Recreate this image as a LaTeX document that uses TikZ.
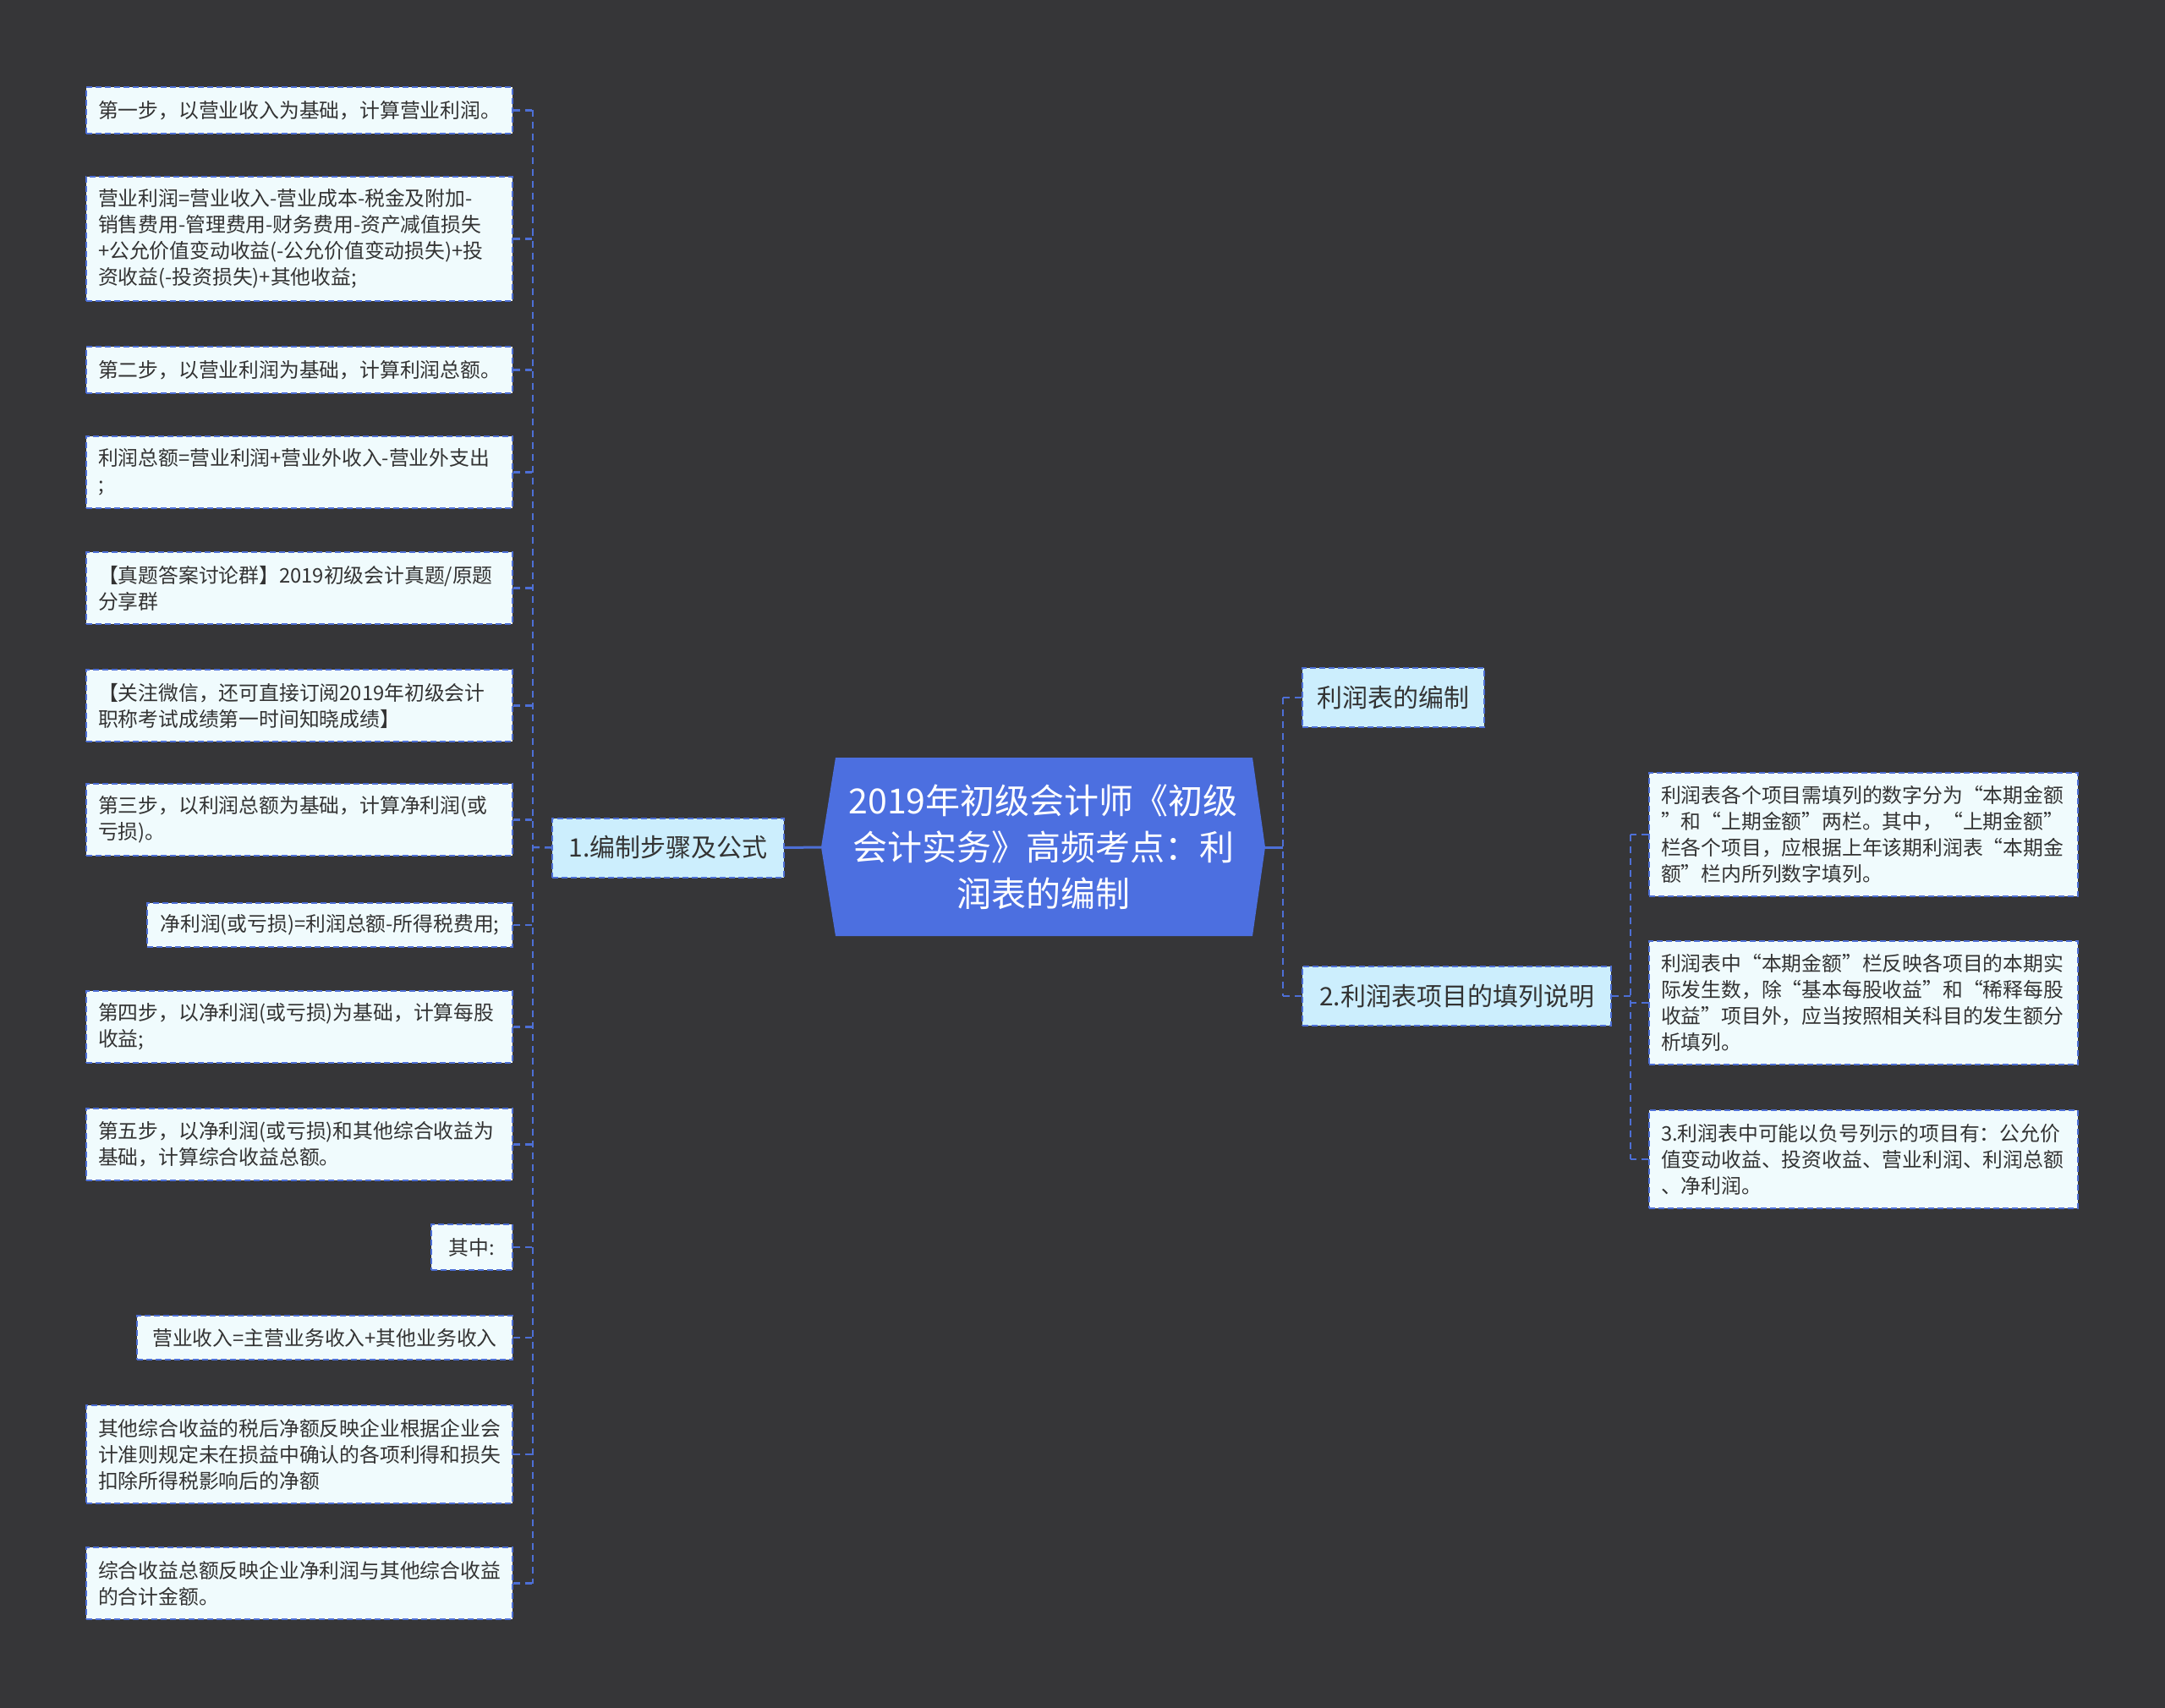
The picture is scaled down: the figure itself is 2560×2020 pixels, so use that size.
\documentclass[tikz,border=0pt]{standalone}
\usepackage{fontspec}
\setmainfont{Noto Sans CJK SC}
\definecolor{bgc}{RGB}{54,54,56}
\definecolor{linec}{RGB}{77,111,214}
\definecolor{cfill}{RGB}{76,111,224}
\definecolor{bfill}{RGB}{204,238,253}
\definecolor{lfill}{RGB}{240,251,253}
\definecolor{ltext}{RGB}{51,51,51}
\newcommand{\leaffont}{\fontsize{23.8pt}{31pt}\selectfont\hyphenpenalty=10000\exhyphenpenalty=10000}
\newcommand{\branchfont}{\fontsize{30pt}{36pt}\selectfont}
\newcommand{\centerfont}{\fontsize{41pt}{55pt}\selectfont}
\begin{document}
\begin{tikzpicture}[x=1pt,y=-1pt,
  leaf/.style={draw=linec, dash pattern=on 7pt off 4pt, line width=2pt, fill=lfill,
    text=ltext, font=\leaffont, align=left, inner xsep=14pt, inner ysep=0pt, anchor=east},
  nleaf/.style={leaf, inner xsep=10pt},
  branchbox/.style={draw=linec, dash pattern=on 7pt off 4pt, line width=2pt, fill=bfill,
    text=ltext, font=\branchfont, inner sep=0pt, minimum height=70pt},
  dashc/.style={draw=linec, line width=2.5pt, dash pattern=on 8pt off 6pt},
  solidc/.style={draw=linec, line width=3pt}]
\fill[bgc] (0,0) rectangle (2560,2020);
\useasboundingbox (0,0) rectangle (2560,2020);

% center
\fill[cfill] (988,896) -- (1481,896) -- (1496,1002) -- (1481,1107) -- (988,1107) -- (971,1002) -- cycle;
\node[text=white, font=\centerfont, align=center, inner sep=0pt] (center) at (1233.5,1002)
  {2019年初级会计师《初级\\会计实务》高频考点：利\\润表的编制};
\coordinate (cL) at (971,1002);
\coordinate (cR) at (1496,1002);

% branches
\node[branchbox, minimum width=274pt] (B1) at (790,1002.5) {1.编制步骤及公式};
\node[branchbox, minimum width=215pt] (B2) at (1647.5,825) {利润表的编制};
\node[branchbox, minimum width=365pt] (B3) at (1722.5,1178) {2.利润表项目的填列说明};

% left leaves
\node[leaf, text width=476pt, minimum height=55pt] (L1) at (607,130.5) {第一步，以营业收入为基础，计算营业利润。};
\node[leaf, text width=476pt, minimum height=147pt] (L2) at (607,282.5) {营业利润=营业收入-营业成本-税金及附加-\\销售费用-管理费用-财务费用-资产减值损失\\+公允价值变动收益(-公允价值变动损失)+投\\资收益(-投资损失)+其他收益;};
\node[leaf, text width=476pt, minimum height=55pt] (L3) at (607,437.5) {第二步，以营业利润为基础，计算利润总额。};
\node[leaf, text width=476pt, minimum height=85pt] (L4) at (607,558.5) {利润总额=营业利润+营业外收入-营业外支出\\;};
\node[leaf, text width=476pt, minimum height=85pt] (L5) at (607,695.5) {【真题答案讨论群】2019初级会计真题/原题\\分享群};
\node[leaf, text width=476pt, minimum height=85pt] (L6) at (607,834.5) {【关注微信，还可直接订阅2019年初级会计\\职称考试成绩第一时间知晓成绩】};
\node[leaf, text width=476pt, minimum height=85pt] (L7) at (607,969.5) {第三步，以利润总额为基础，计算净利润(或\\亏损)。};
\node[nleaf, minimum width=432pt, minimum height=52pt] (L8) at (607,1094) {净利润(或亏损)=利润总额-所得税费用;};
\node[leaf, text width=476pt, minimum height=85pt] (L9) at (607,1214.5) {第四步，以净利润(或亏损)为基础，计算每股\\收益;};
\node[leaf, text width=476pt, minimum height=85pt] (L10) at (607,1353.5) {第五步，以净利润(或亏损)和其他综合收益为\\基础，计算综合收益总额。};
\node[nleaf, minimum width=96pt, minimum height=54pt] (L11) at (607,1475) {其中:};
\node[nleaf, minimum width=444pt, minimum height=52pt] (L12) at (607,1582) {营业收入=主营业务收入+其他业务收入};
\node[leaf, text width=476pt, minimum height=116pt] (L13) at (607,1720) {其他综合收益的税后净额反映企业根据企业会\\计准则规定未在损益中确认的各项利得和损失\\扣除所得税影响后的净额};
\node[leaf, text width=476pt, minimum height=85pt] (L14) at (607,1872.5) {综合收益总额反映企业净利润与其他综合收益\\的合计金额。};

% right leaves
\node[leaf, anchor=west, text width=479pt, minimum height=146pt] (R1) at (1949,987) {利润表各个项目需填列的数字分为“本期金额\\”和“上期金额”两栏。其中，“上期金额”\\栏各个项目，应根据上年该期利润表“本期金\\额”栏内所列数字填列。};
\node[leaf, anchor=west, text width=479pt, minimum height=146pt] (R2) at (1949,1186) {利润表中“本期金额”栏反映各项目的本期实\\际发生数，除“基本每股收益”和“稀释每股\\收益”项目外，应当按照相关科目的发生额分\\析填列。};
\node[leaf, anchor=west, text width=479pt, minimum height=116pt] (R3) at (1949,1371) {3.利润表中可能以负号列示的项目有：公允价\\值变动收益、投资收益、营业利润、利润总额\\、净利润。};

% connectors left
\coordinate (lbus) at (630,1002);
\draw[solidc] (cL) -- (B1.east);
\draw[dashc] (B1.west) -- (lbus);
\draw[dashc] (L1.east -| lbus) -- (L14.east -| lbus);
\foreach \n in {L1,L2,L3,L4,L5,L6,L7,L8,L9,L10,L11,L12,L13,L14}
  \draw[dashc] (\n.east) -- (\n.east -| lbus);

% connectors right
\coordinate (rbus) at (1517,1002);
\draw[solidc] (cR) -- (rbus);
\draw[dashc] (B2.west -| rbus) -- (B3.west -| rbus);
\foreach \n in {B2,B3}
  \draw[dashc] (\n.west) -- (\n.west -| rbus);
\coordinate (r2bus) at (1928,1178);
\draw[dashc] (B3.east) -- (r2bus);
\draw[dashc] (R1.west -| r2bus) -- (R3.west -| r2bus);
\foreach \n in {R1,R2,R3}
  \draw[dashc] (\n.west) -- (\n.west -| r2bus);
\end{tikzpicture}
\end{document}
